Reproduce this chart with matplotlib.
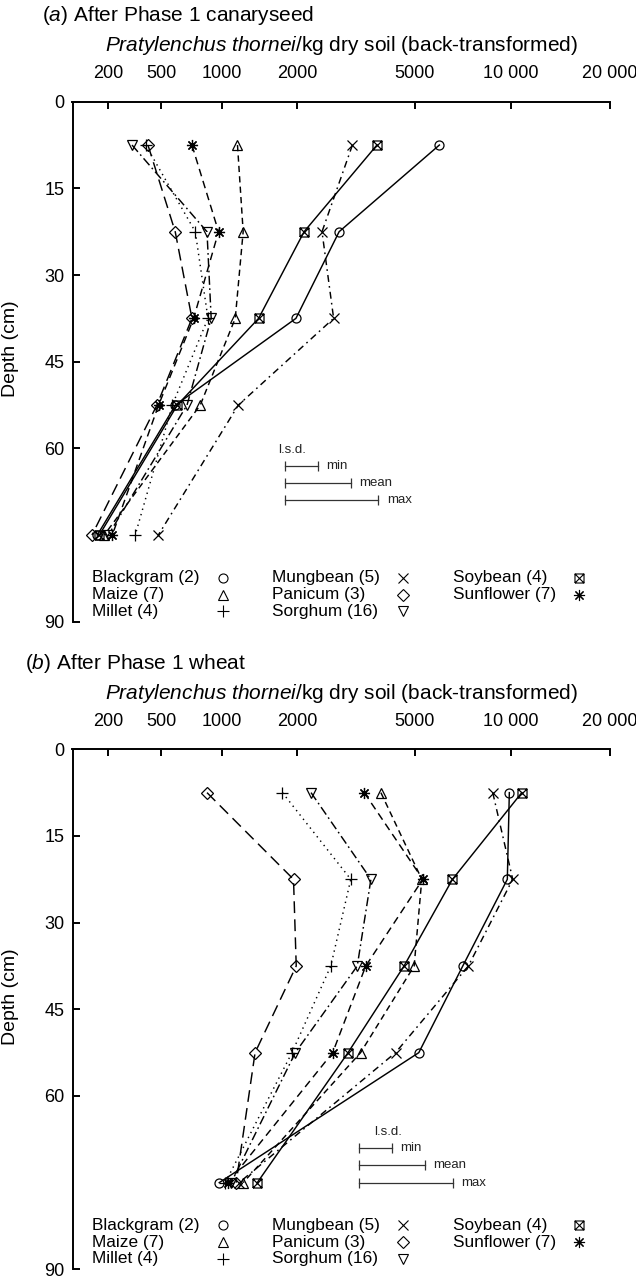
import numpy as np
import matplotlib
matplotlib.use("Agg")
import matplotlib.pyplot as plt
from matplotlib.path import Path

plt.rcParams['font.family'] = ['Liberation Sans', 'DejaVu Sans']
plt.rcParams['mathtext.fontset'] = 'custom'
plt.rcParams['mathtext.rm'] = 'Liberation Sans'
plt.rcParams['mathtext.it'] = 'Liberation Sans:italic'
plt.rcParams['lines.scale_dashes'] = False

# sampling depths (cm)
depths = [7.5, 22.5, 37.5, 52.5, 75]

crops = ["Blackgram", "Maize", "Millet", "Mungbean",
         "Panicum", "Sorghum", "Soybean", "Sunflower"]
n_sites = [2, 7, 4, 5, 3, 16, 4, 7]

# P. thornei/kg dry soil, after phase 1 canaryseed
canary_blackgram = [6000, 2810, 1975, 600, 150]
canary_maize = [1170, 1235, 1145, 800, 181]
canary_millet = [400, 757, 869, 577, 339]
canary_mungbean = [3120, 2450, 2690, 1180, 480]
canary_panicum = [414, 598, 729, 471, 127]
canary_sorghum = [321, 860, 899, 689, 200]
canary_soybean = [3770, 2115, 1425, 614, 159]
canary_sunflower = [729, 970, 743, 482, 219]

# P. thornei/kg dry soil, after phase 1 wheat
wheat_blackgram = [9910, 9770, 7110, 5160, 977]
wheat_maize = [3885, 5275, 4985, 3325, 1235]
wheat_millet = [1760, 3080, 2630, 1910, 1038]
wheat_mungbean = [8810, 10150, 7400, 4340, 1189]
wheat_panicum = [860, 1935, 1980, 1380, 1155]
wheat_sorghum = [2240, 3600, 3240, 1965, 1101]
wheat_soybean = [10820, 6600, 4625, 3015, 1408]
wheat_sunflower = [3420, 5315, 3460, 2670, 1069]

# least significant differences, on the transformed (log10) scale
lsd_log = [0.095, 0.192, 0.273]
lsd_names = ["min", "mean", "max"]

xticks = [200, 500, 1000, 2000, 5000, 10000, 20000]
xtick_labels = ["200", "500", "1000", "2000", "5000", "10 000", "20 000"]
yticks = [0, 15, 30, 45, 60, 90]

canary = [canary_blackgram, canary_maize, canary_millet, canary_mungbean,
          canary_panicum, canary_sorghum, canary_soybean, canary_sunflower]
wheat = [wheat_blackgram, wheat_maize, wheat_millet, wheat_mungbean,
         wheat_panicum, wheat_sorghum, wheat_soybean, wheat_sunflower]


def fwd(x):
    return np.log10(np.asarray(x, dtype=float) + 500.0)


def inv(y):
    return 10.0 ** np.asarray(y, dtype=float) - 500.0


# square with both diagonals
boxx = Path([(-1, -1), (1, -1), (1, 1), (-1, 1), (-1, -1),
             (-1, -1), (1, 1), (-1, 1), (1, -1)],
            [Path.MOVETO, Path.LINETO, Path.LINETO, Path.LINETO, Path.LINETO,
             Path.MOVETO, Path.LINETO, Path.MOVETO, Path.LINETO])

markers = ['o', '^', '+', 'x', 'D', 'v', boxx, (8, 2, 0)]
msizes = [6.5, 7, 9, 7, 6, 7, 6.5, 8]
styles = ['-', (0, (4.5, 3)), (0, (1, 3)), (0, (5, 3, 1.2, 3)),
          (0, (8.5, 4.5)), (0, (6.5, 2.5, 1.2, 2.5)), '-', (0, (5.5, 3.5))]

W, H = 636, 1278
fig = plt.figure(figsize=(W / 100, H / 100), dpi=100)

# axes boxes in pixels: left, right, top (depth 0), bottom (depth 90)
ax_left, ax_right = 72.5, 610
panels = [
    dict(top=101.7, title="($\\it{a}$) After Phase 1 canaryseed", title_x=42,
         data=canary, lsd_x0=1800, lsd_label=(278, 60.2), lsd_y=[63.0, 66.0, 69.0]),
    dict(top=749.3, title="($\\it{b}$) After Phase 1 wheat", title_x=25,
         data=wheat, lsd_x0=3290, lsd_label=(374, 66.2), lsd_y=[69.0, 72.0, 75.0]),
]

for p in panels:
    top = p['top']
    ax = fig.add_axes([ax_left / W, 1 - (top + 520) / H,
                       (ax_right - ax_left) / W, 520 / H])
    ax.set_xscale('function', functions=(fwd, inv))
    ax.set_xlim(50, 20000)
    ax.set_ylim(90, 0)

    for name, vals, m, ms, ls in zip(crops, p['data'], markers, msizes, styles):
        ax.plot(vals, depths, color='black', lw=1.05, linestyle=ls,
                marker=m, ms=ms, mfc='none', mec='black', mew=0.9)

    # l.s.d. bars
    for L, lab, yb in zip(lsd_log, lsd_names, p['lsd_y']):
        x1 = inv(fwd(p['lsd_x0']) + L)
        ax.plot([p['lsd_x0'], x1], [yb, yb], color='#333333', lw=0.9,
                marker='|', ms=7, mew=0.9)
        ax.annotate(lab, (x1, yb), xytext=(6, 0), textcoords='offset points',
                    fontsize=9.5, va='center', ha='left', color='#222222')
    lx = inv(fwd(50) + (p['lsd_label'][0] - ax_left) / 342.3)
    ax.text(lx, p['lsd_label'][1], "l.s.d.", fontsize=9.5, va='center',
            ha='left', color='#222222')

    # key: text then symbol, three columns
    key_cols = [(91.7, 223), (271.7, 403), (452.7, 579)]
    key_rows = [82.4, 85.3, 88.2]
    for i, (name, n) in enumerate(zip(crops, n_sites)):
        tx, mx = key_cols[i // 3]
        yk = 1 - key_rows[i % 3] / 90
        ax.text((tx - ax_left) / (ax_right - ax_left), yk, f"{name} ({n})",
                transform=ax.transAxes, fontsize=12.4, va='center', ha='left')
        ax.plot([(mx - ax_left) / (ax_right - ax_left)], [yk],
                transform=ax.transAxes, marker=markers[i], ms=msizes[i],
                mfc='none', mec='black', mew=0.8, linestyle='none',
                clip_on=False)

    for s in ['right', 'bottom']:
        ax.spines[s].set_visible(False)
    for s in ['left', 'top']:
        ax.spines[s].set_linewidth(1.4)
    ax.xaxis.set_ticks_position('top')
    ax.set_xticks(xticks)
    ax.set_xticklabels(xtick_labels)
    ax.xaxis.set_minor_locator(matplotlib.ticker.NullLocator())
    ax.set_yticks(yticks)
    ax.tick_params(axis='x', direction='in', length=5, width=1.4,
                   labelsize=13, pad=14)
    ax.tick_params(axis='y', direction='in', length=5, width=1.4,
                   labelsize=13, pad=5.5)
    ax.set_ylabel("Depth (cm)", fontsize=14, labelpad=2)
    ax.yaxis.set_label_coords(-0.1, 0.525)

    fig.text(p['title_x'] / W, 1 - (top - 86) / H, p['title'],
             fontsize=15, va='center', ha='left')
    fig.text(105 / W, 1 - (top - 56) / H,
             "$\\it{Pratylenchus\\ thornei}$/kg dry soil (back-transformed)",
             fontsize=15, va='center', ha='left')

fig.savefig("out.png", dpi=100)
